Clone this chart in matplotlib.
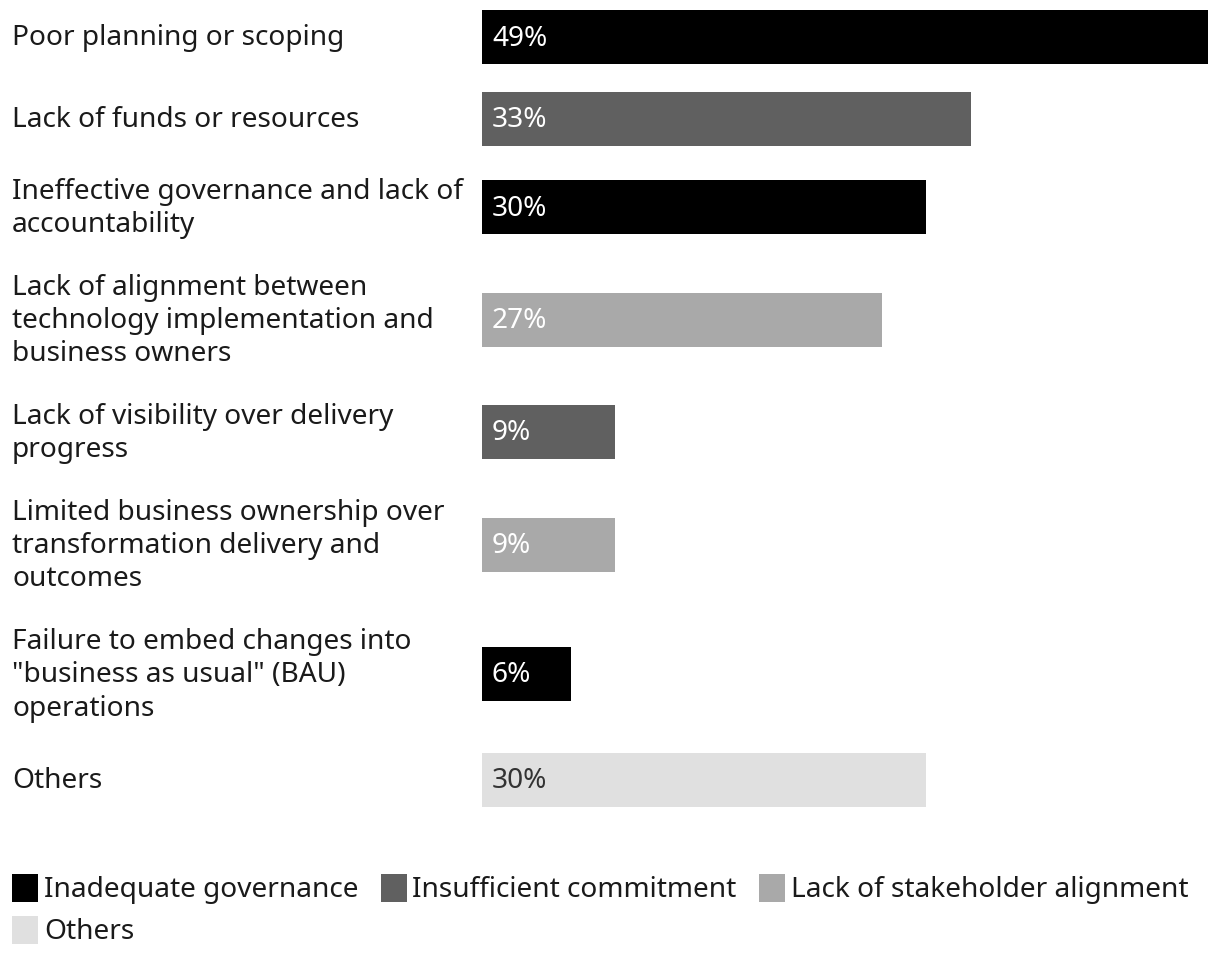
import matplotlib
matplotlib.use("Agg")
import matplotlib.pyplot as plt
from matplotlib.patches import Rectangle
from matplotlib.transforms import blended_transform_factory, ScaledTranslation

labels = [
    "Poor planning or scoping",
    "Lack of funds or resources",
    "Ineffective governance and lack of\naccountability",
    "Lack of alignment between\ntechnology implementation and\nbusiness owners",
    "Lack of visibility over delivery\nprogress",
    "Limited business ownership over\ntransformation delivery and\noutcomes",
    "Failure to embed changes into\n\"business as usual\" (BAU)\noperations",
    "Others",
]
values = [49, 33, 30, 27, 9, 9, 6, 30]
groups = [0, 1, 0, 2, 1, 2, 0, 3]
group_names = ["Inadequate governance", "Insufficient commitment",
               "Lack of stakeholder alignment", "Others"]
group_colors = ["#000000", "#606060", "#a9a9a9", "#e0e0e0"]
value_text_colors = ["white", "white", "white", "#333333"]

W, H = 1220, 964
fig = plt.figure(figsize=(W / 100, H / 100), dpi=100)
FONT = ["Noto Sans", "DejaVu Sans"]
FS = 20.2

# bar area: x from 482px to 1208px for 49%, y in pixel rows
ax = fig.add_axes([482 / W, 0, (1208 - 482) / W, 1])
ax.set_xlim(0, max(values))
ax.set_ylim(H, 0)
ax.axis("off")

# row layout like a stacked html list: row height = max(bar, text lines)
bar_h, line_h, gap = 54, 34, 27.5
centers = []
top = 37 - bar_h / 2
for lab in labels:
    h = max(bar_h, line_h * (lab.count("\n") + 1))
    centers.append(top + h / 2)
    top += h + gap

colors = [group_colors[g] for g in groups]
ax.barh(centers, values, height=bar_h, color=colors, linewidth=0)

lab_tr = blended_transform_factory(fig.transFigure, ax.transData)
val_tr = ax.transData + ScaledTranslation(10 / 100, 0, fig.dpi_scale_trans)
for c, lab, v, g in zip(centers, labels, values, groups):
    ax.text(12 / W, c + 1.5, lab, transform=lab_tr, ha="left", va="center",
            fontsize=FS, family=FONT, color="#1a1a1a", linespacing=1.24)
    ax.text(0, c + 1.5, f"{v}%", transform=val_tr, ha="left", va="center",
            fontsize=FS, family=FONT, color=value_text_colors[g])

# legend laid out like wrapped flex items
fig.canvas.draw()
renderer = fig.canvas.get_renderer()
rows = [[0, 1, 2], [3]]
row_y = [888, 930]
for row, yc in zip(rows, row_y):
    x = 12
    for g in row:
        fig.patches.append(Rectangle((x / W, (H - yc - 14) / H), 26 / W, 28 / H,
                                     transform=fig.transFigure, color=group_colors[g],
                                     linewidth=0))
        t = fig.text((x + 32) / W, (H - yc - 2) / H, group_names[g], ha="left", va="center",
                     fontsize=FS, family=FONT, color="#1a1a1a")
        bb = t.get_window_extent(renderer)
        x = bb.x1 + 22

fig.savefig("out.png", dpi=100)
